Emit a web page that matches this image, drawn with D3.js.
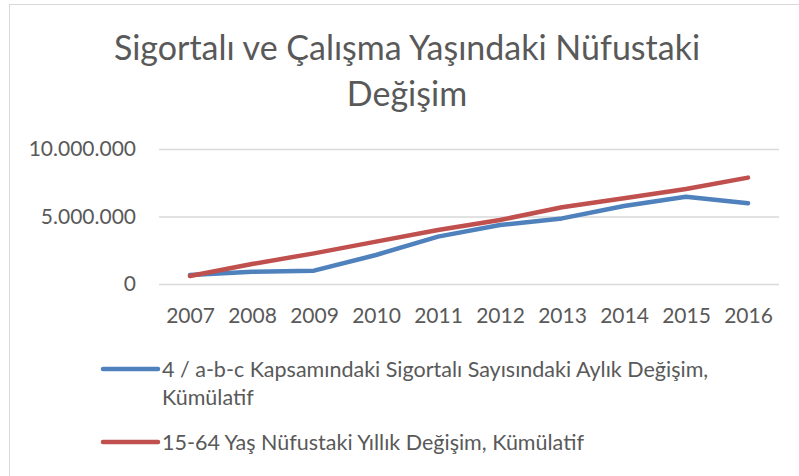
<!DOCTYPE html>
<html>
<head>
<meta charset="utf-8">
<script src="https://cdn.jsdelivr.net/npm/d3@7"></script>
<style>
  body { margin: 0; background: #fff; }
  text { font-family: Lato, "Open Sans", sans-serif; fill: #595959; }
</style>
</head>
<body>
<svg id="chart"></svg>
<script>
// data
var years = ["2007","2008","2009","2010","2011","2012","2013","2014","2015","2016"]
var insured = [670000, 910000, 990000, 2150000, 3510000, 4370000, 4860000, 5780000, 6470000, 5980000]
var population = [590000, 1480000, 2270000, 3140000, 4000000, 4740000, 5680000, 6350000, 7040000, 7880000]
var yTicks = [0, 5000000, 10000000]
var seriesNames = ["4 / a-b-c Kapsamındaki Sigortalı Sayısındaki Aylık Değişim, Kümülatif",
                   "15-64 Yaş Nüfustaki Yıllık Değişim, Kümülatif"]
var legendLines = [["4 / a-b-c Kapsamındaki Sigortalı Sayısındaki Aylık Değişim,", "Kümülatif"],
                   ["15-64 Yaş Nüfustaki Yıllık Değişim, Kümülatif"]]
var colors = ["#4f81bd", "#c0504d"]
var titleLines = ["Sigortalı ve Çalışma Yaşındaki Nüfustaki", "Değişim"]

var screen = {width: 799, height: 476}
var margins = {left: 159, right: 20, top: 149, bottom: 192}
var graph = {
    width: screen.width - margins.left - margins.right,
    height: screen.height - margins.top - margins.bottom
}

var svg = d3.select("#chart")
    .attr("width", screen.width)
    .attr("height", screen.height)

// chart border (right and bottom edges fall outside the crop)
svg.append("rect")
    .attr("x", 9.5)
    .attr("y", 4.5)
    .attr("width", 900)
    .attr("height", 600)
    .attr("fill", "#fff")
    .attr("stroke", "#d9d9d9")

var locale = d3.formatLocale({decimal: ",", thousands: ".", grouping: [3], currency: ["", ""]})
var fmt = locale.format(",")

var xScale = d3.scalePoint()
    .domain(years)
    .range([0, graph.width])
    .padding(0.5)

var yScale = d3.scaleLinear()
    .domain([0, 10000000])
    .range([graph.height, 0])

var plot = svg.append("g")
    .attr("transform", "translate(" + margins.left + "," + margins.top + ")")

var yAxis = plot.append("g")
    .call(d3.axisLeft(yScale)
        .tickValues(yTicks)
        .tickFormat(fmt)
        .tickSize(-graph.width)
        .tickPadding(23))
yAxis.select(".domain").remove()
yAxis.selectAll("line").attr("stroke", "#d9d9d9").attr("stroke-width", 1.3)
yAxis.selectAll("text").attr("fill", "#595959").style("font-size", "21px").style("font-family", "Lato")

var xAxis = plot.append("g")
    .attr("transform", "translate(0," + graph.height + ")")
    .call(d3.axisBottom(xScale).tickSize(0).tickPadding(24))
xAxis.select(".domain").remove()
xAxis.selectAll("text").attr("fill", "#595959").style("font-size", "21px").style("font-family", "Lato")

var series = [insured, population]

var lineGenerator = d3.line()
    .x(function(d, i) { return xScale(years[i]) })
    .y(function(d) { return yScale(d) })

plot.selectAll("path.series")
    .data(series)
    .enter()
    .append("path")
    .classed("series", true)
    .attr("d", lineGenerator)
    .attr("fill", "none")
    .attr("stroke", function(d, i) { return colors[i] })
    .attr("stroke-width", 4.5)
    .attr("stroke-linecap", "round")
    .attr("stroke-linejoin", "round")

// title
var title = svg.append("text")
    .attr("text-anchor", "middle")
    .style("font-size", "34px")
title.selectAll("tspan")
    .data(titleLines)
    .enter()
    .append("tspan")
    .attr("x", 407)
    .attr("y", function(d, i) { return 60 + i * 46 })
    .text(function(d) { return d })

// legend
var legendY = [369, 442]
var legend = svg.append("g")
var items = legend.selectAll("g")
    .data(seriesNames)
    .enter()
    .append("g")
    .attr("transform", function(d, i) { return "translate(103," + legendY[i] + ")" })

items.append("line")
    .attr("x1", 0)
    .attr("x2", 55)
    .attr("stroke", function(d, i) { return colors[i] })
    .attr("stroke-width", 4.5)
    .attr("stroke-linecap", "round")

items.append("text")
    .style("font-size", "21.5px")
    .selectAll("tspan")
    .data(function(d, i) { return legendLines[i] })
    .enter()
    .append("tspan")
    .attr("x", 59)
    .attr("y", function(d, j) { return 8 + j * 28 })
    .text(function(d) { return d })
</script>
</body>
</html>
